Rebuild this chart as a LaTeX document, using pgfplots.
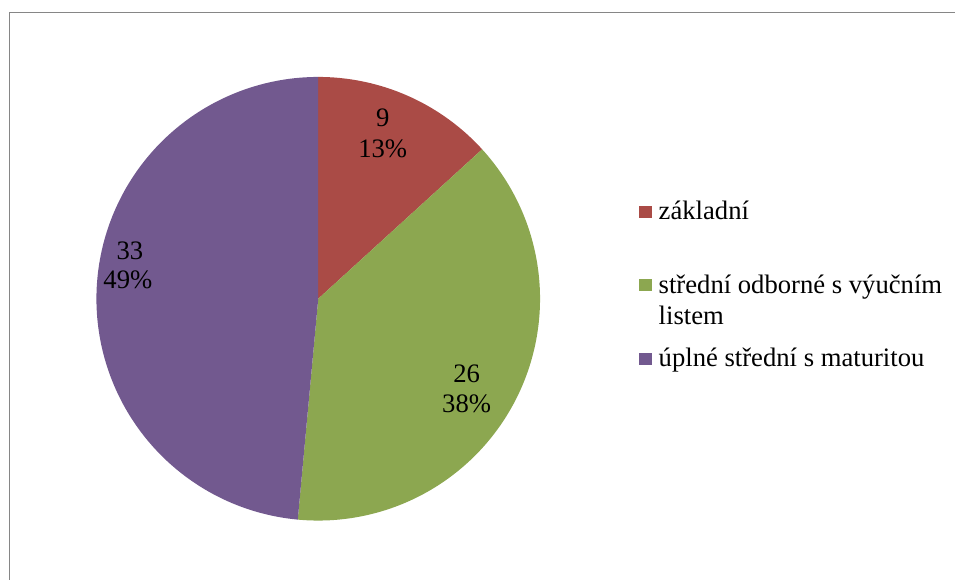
\documentclass[border=0pt]{standalone}
\usepackage{fontspec}
\setmainfont{Liberation Serif}
\usepackage{pgfplots}
\pgfplotsset{compat=1.18}
\definecolor{pieRed}{RGB}{170,75,70}
\definecolor{pieGreen}{RGB}{140,167,80}
\definecolor{piePurple}{RGB}{114,89,143}
\definecolor{frameGray}{RGB}{134,134,134}
\tikzset{lbl/.style={font=\fontsize{20}{24}\selectfont}}
\begin{document}
\begin{tikzpicture}
% values of the slices
\def\va{9}\def\vb{26}\def\vc{33}
\pgfmathsetmacro\tot{\va+\vb+\vc}
\pgfmathsetmacro\aA{90}
\pgfmathsetmacro\aB{90-360*\va/\tot}
\pgfmathsetmacro\aC{\aB-360*\vb/\tot}
\pgfmathsetmacro\aD{\aC-360*\vc/\tot}
\begin{axis}[
  scale only axis, width=717pt, height=435pt,
  xmin=0, xmax=956, ymin=0, ymax=580, y dir=reverse,
  hide axis, clip=false,
]
\path (axis cs:0,0) rectangle (axis cs:956,580);
\draw[frameGray, line width=1.2pt] (axis cs:9.5,580) -- (axis cs:9.5,12.5) -- (axis cs:956,12.5);
\addplot[draw=none, fill=pieRed, domain=\aB:\aA, samples=60]
  ({318.5+222*cos(x)},{299-222*sin(x)}) -- (axis cs:318.5,299) -- cycle;
\addplot[draw=none, fill=pieGreen, domain=\aC:\aB, samples=120]
  ({318.5+222*cos(x)},{299-222*sin(x)}) -- (axis cs:318.5,299) -- cycle;
\addplot[draw=none, fill=piePurple, domain=\aD:\aC, samples=150]
  ({318.5+222*cos(x)},{299-222*sin(x)}) -- (axis cs:318.5,299) -- cycle;
% data labels
\node[lbl, anchor=base] at (axis cs:383,127) {9};
\node[lbl, anchor=base] at (axis cs:383,158) {13\%};
\node[lbl, anchor=base] at (axis cs:467,383) {26};
\node[lbl, anchor=base] at (axis cs:467,413) {38\%};
\node[lbl, anchor=base] at (axis cs:130,260) {33};
\node[lbl, anchor=base] at (axis cs:128,289) {49\%};
% legend
\fill[pieRed] (axis cs:640,206) rectangle (axis cs:653,218);
\fill[pieGreen] (axis cs:640,279) rectangle (axis cs:653,291);
\fill[piePurple] (axis cs:640,353) rectangle (axis cs:653,365);
\node[lbl, anchor=base west, inner sep=0pt] at (axis cs:659,220) {základní};
\node[lbl, anchor=base west, inner sep=0pt] at (axis cs:659,294) {střední odborné s výučním};
\node[lbl, anchor=base west, inner sep=0pt] at (axis cs:659,325) {listem};
\node[lbl, anchor=base west, inner sep=0pt] at (axis cs:659,367) {úplné střední s maturitou};
\end{axis}
\end{tikzpicture}
\end{document}
